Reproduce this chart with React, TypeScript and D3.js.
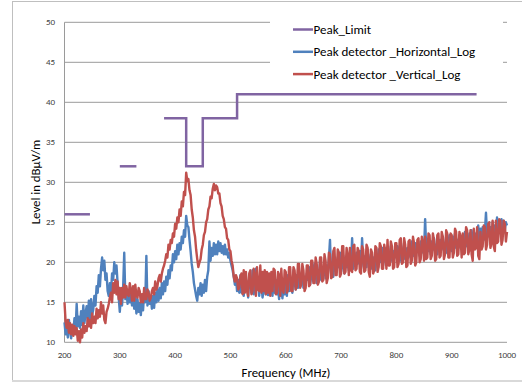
import React from "react";
import * as d3 from "d3";

// Frequency grid of the measured traces (MHz), one sample every 2 MHz
const FREQ_START = 200;
const FREQ_STEP = 2;

const horizontalLog: number[] = [
  12.5, 11.0, 12.2, 10.6, 12.8, 11.4, 10.5, 12.0, 11.2, 13.0, 11.4, 14.8, 12.0, 13.2, 11.8, 13.9, 12.2, 14.6, 12.4, 13.6,
  14.5, 12.6, 15.2, 13.0, 15.4, 13.4, 14.1, 15.8, 14.6, 17.0, 16.2, 18.4, 17.0, 19.2, 20.6, 19.0, 20.2, 17.8, 18.6, 16.4,
  15.8, 17.4, 16.2, 18.6, 17.8, 20.0, 18.6, 19.6, 17.4, 15.6, 13.8, 16.0, 14.6, 16.8, 21.2, 15.4, 16.6, 14.8, 16.3, 15.0,
  16.6, 14.6, 16.4, 14.2, 15.8, 13.6, 15.4, 13.8, 14.9, 13.4, 15.6, 14.0, 16.2, 15.0, 20.8, 14.6, 16.4, 14.8, 15.7, 14.2,
  15.8, 14.3, 16.2, 15.0, 16.6, 15.2, 16.8, 15.5, 17.4, 16.0, 17.6, 16.4, 18.2, 17.2, 19.0, 18.0, 19.6, 19.0, 21.0, 20.0,
  21.4, 20.4, 22.2, 21.0, 22.4, 21.6, 23.2, 22.4, 24.0, 23.2, 25.8, 24.6, 24.4, 22.8, 21.4, 19.8, 18.8, 17.4, 16.6, 15.8,
  15.2, 16.8, 16.0, 17.4, 15.8, 17.2, 16.2, 17.8, 16.4, 18.2, 19.0, 22.6, 20.2, 21.8, 20.8, 22.4, 21.0, 22.2, 21.0, 22.6,
  21.4, 22.4, 21.2, 22.0, 21.0, 22.2, 21.0, 21.6, 20.6, 21.2, 20.2, 19.6, 19.0, 18.2, 17.2, 18.0, 16.4, 17.8, 16.2, 18.4,
  16.2, 18.0, 15.8, 18.4, 16.8, 17.6, 15.6, 18.2, 17.6, 16.2, 19.0, 16.0, 17.8, 19.2, 16.6, 18.0, 15.8, 17.6, 17.4, 15.6,
  16.4, 18.2, 16.0, 17.8, 15.9, 18.4, 16.6, 17.2, 15.8, 18.6, 16.2, 17.8, 16.0, 17.0, 15.4, 17.6, 16.8, 15.5, 17.4, 16.0,
  17.2, 15.8, 18.4, 16.4, 18.0, 17.0, 16.2, 19.0, 17.4, 16.6, 18.4, 16.8, 18.8, 17.0, 17.6, 19.2, 16.8, 18.2, 17.2, 18.6,
  17.8, 19.4, 17.2, 18.2, 19.6, 17.6, 19.8, 18.4, 17.4, 19.0, 18.0, 20.2, 17.8, 19.2, 18.4, 20.0, 18.0, 19.6, 18.6, 20.4,
  22.8, 18.6, 20.0, 18.2, 20.6, 19.0, 18.8, 20.6, 19.4, 21.2, 18.8, 19.6, 20.8, 18.6, 20.2, 19.4, 21.0, 19.0, 20.4, 19.6,
  23.0, 19.2, 20.4, 19.6, 21.2, 19.8, 20.0, 21.4, 19.4, 23.0, 20.2, 19.0, 20.8, 19.4, 21.6, 20.0, 19.6, 21.0, 19.2, 20.6,
  20.4, 19.0, 21.0, 19.8, 21.6, 20.0, 20.4, 21.8, 19.6, 21.2, 20.2, 21.8, 19.8, 21.2, 20.4, 22.0, 20.2, 21.4, 20.6, 21.8,
  20.6, 22.0, 21.4, 20.2, 22.2, 20.0, 21.0, 22.4, 20.4, 21.6, 21.8, 20.6, 22.2, 20.8, 22.6, 21.2, 20.8, 22.4, 21.2, 22.0,
  21.8, 20.8, 22.6, 21.2, 22.4, 21.4, 25.4, 21.6, 22.8, 21.4, 22.2, 21.0, 22.6, 21.6, 23.0, 21.4, 22.2, 21.0, 22.8, 21.6,
  22.8, 21.6, 23.2, 22.0, 22.4, 21.2, 23.0, 22.0, 23.4, 21.8, 21.4, 23.2, 22.2, 23.6, 21.8, 22.8, 22.2, 23.4, 21.8, 22.6,
  23.4, 22.2, 23.8, 22.0, 23.0, 21.8, 23.6, 22.4, 24.0, 22.6, 23.2, 22.4, 23.6, 22.4, 24.6, 22.8, 24.2, 23.0, 24.4, 22.8,
  23.8, 26.2, 23.4, 24.6, 23.2, 24.4, 23.0, 25.0, 23.6, 24.6, 23.4, 25.6, 24.0, 25.2, 23.6, 25.4, 23.8, 25.2, 24.0, 25.0,
  24.6,
];

const verticalLog: number[] = [
  15.0, 12.6, 11.8, 12.8, 11.2, 12.4, 11.0, 12.2, 10.8, 12.0, 11.0, 11.8, 10.2, 11.4, 10.0, 11.6, 10.6, 12.4, 11.2, 12.0,
  11.4, 13.0, 12.0, 12.8, 11.8, 13.6, 12.4, 13.2, 12.4, 14.2, 13.0, 14.0, 13.2, 15.0, 13.6, 14.6, 12.8, 12.4, 13.8, 14.2,
  14.8, 15.6, 16.2, 15.0, 17.4, 16.2, 17.8, 16.0, 17.6, 15.4, 16.8, 14.8, 16.8, 15.6, 17.2, 15.6, 17.0, 16.0, 15.8, 17.4,
  16.6, 15.2, 17.0, 15.2, 17.2, 15.8, 15.6, 16.8, 16.4, 15.0, 16.0, 15.0, 16.8, 15.4, 15.4, 16.6, 16.2, 15.2, 15.6, 16.4,
  16.8, 16.0, 17.6, 16.6, 17.0, 18.0, 18.4, 17.6, 18.6, 19.2, 19.6, 20.2, 21.0, 20.6, 22.2, 21.6, 22.8, 22.4, 23.6, 23.2,
  24.8, 24.2, 25.6, 25.0, 26.6, 25.8, 27.6, 27.0, 28.8, 28.4, 31.2, 30.2, 30.4, 29.0, 28.4, 26.6, 25.6, 24.0, 23.2, 21.6,
  20.4, 19.4, 20.0, 20.4, 21.6, 22.2, 23.4, 23.8, 25.0, 25.4, 26.6, 27.0, 28.2, 28.0, 29.2, 29.8, 29.0, 29.6, 29.4, 28.6,
  28.6, 27.4, 27.0, 25.8, 25.4, 24.4, 24.2, 23.0, 22.8, 21.6, 21.4, 20.2, 19.6, 18.2, 17.6, 18.4, 18.0, 16.6, 16.8, 18.2,
  18.6, 16.0, 19.0, 16.2, 18.8, 16.4, 15.8, 18.6, 19.0, 16.0, 16.4, 19.2, 18.4, 15.8, 19.4, 16.6, 16.4, 19.6, 16.2, 18.8,
  16.4, 19.0, 16.0, 18.8, 16.2, 18.6, 15.8, 18.8, 16.4, 19.2, 19.0, 16.0, 16.2, 18.8, 18.4, 15.8, 19.2, 16.6, 16.2, 19.0,
  18.8, 16.2, 16.6, 19.4, 19.4, 16.4, 16.4, 19.4, 19.0, 16.6, 17.0, 19.8, 19.8, 16.8, 17.2, 19.8, 19.0, 16.4, 16.8, 19.6,
  19.6, 17.0, 17.2, 20.2, 20.2, 17.4, 17.4, 20.6, 19.8, 17.2, 17.6, 20.6, 20.6, 17.6, 17.8, 21.0, 20.2, 17.4, 18.0, 21.2,
  21.0, 18.0, 18.2, 21.4, 21.8, 18.4, 18.4, 21.6, 21.2, 18.2, 18.6, 22.0, 22.0, 18.6, 18.8, 21.8, 20.8, 18.4, 21.8, 19.0,
  18.8, 22.0, 22.2, 19.0, 19.2, 21.8, 21.4, 18.8, 18.6, 22.0, 21.6, 18.8, 19.0, 22.2, 21.8, 18.8, 18.2, 21.6, 21.2, 18.6,
  19.0, 22.0, 21.8, 18.8, 19.4, 22.4, 22.0, 19.2, 19.2, 22.2, 21.4, 19.2, 22.8, 19.6, 19.6, 22.6, 22.0, 19.2, 19.4, 22.4,
  22.4, 19.4, 19.8, 22.8, 23.0, 19.8, 20.0, 23.0, 22.2, 19.4, 19.6, 22.6, 22.8, 19.8, 20.2, 23.2, 22.4, 19.6, 20.0, 22.8,
  23.0, 20.0, 20.4, 23.2, 22.6, 20.2, 23.2, 20.4, 20.6, 23.6, 23.4, 20.4, 20.8, 23.6, 22.8, 20.2, 20.4, 23.4, 23.6, 20.6,
  20.8, 23.8, 23.2, 20.4, 21.0, 24.0, 23.6, 20.6, 20.6, 23.6, 23.4, 20.6, 21.2, 24.2, 23.8, 20.8, 21.0, 23.8, 23.2, 20.6,
  23.6, 21.0, 21.2, 24.4, 24.0, 21.0, 21.6, 24.0, 21.0, 20.2, 24.2, 21.6, 21.8, 24.4, 20.8, 20.4, 23.8, 21.6, 22.0, 24.6,
  24.4, 21.6, 22.2, 24.8, 25.0, 21.8, 22.4, 25.2, 22.0, 21.4, 25.2, 22.4, 22.6, 25.4, 25.2, 22.2, 22.8, 25.2, 24.8, 22.6,
  23.8,
];

// Peak limit: step segments (start MHz, end MHz, level dBµV/m)
const limitStart = [200, 300, 380, 420, 450, 512];
const limitEnd = [246, 330, 420, 450, 512, 945];
const limitLevel = [26, 32, 38, 32, 38, 41];

const xTicks = [200, 300, 400, 500, 600, 700, 800, 900, 1000];
const yTicks = [10, 15, 20, 25, 30, 35, 40, 45, 50];

const seriesNames = ["Peak_Limit", "Peak detector _Horizontal_Log", "Peak detector _Vertical_Log"];
const seriesColors = ["#8064A2", "#4F81BD", "#C0504D"];

const W = 522;
const H = 385;
const FONT = "Carlito, Calibri, Lato, 'Open Sans', sans-serif";

export default function App() {
  const x = d3.scaleLinear().domain([200, 1000]).range([64.5, 507]);
  const y = d3.scaleLinear().domain([10, 50]).range([342.3, 22.3]);

  const toPts = (vals: number[]) => vals.map((v, i) => [FREQ_START + i * FREQ_STEP, v] as [number, number]);
  const line = d3.line<[number, number]>().x((d) => x(d[0])).y((d) => y(d[1]));

  // Limit path: connected steps where segments touch, gaps otherwise
  const limitSegs: [number, number][][] = [];
  let cur: [number, number][] = [];
  limitStart.forEach((s, i) => {
    if (cur.length && limitEnd[i - 1] !== s) {
      limitSegs.push(cur);
      cur = [];
    }
    cur.push([s, limitLevel[i]]);
    cur.push([limitEnd[i], limitLevel[i]]);
  });
  if (cur.length) limitSegs.push(cur);

  return (
    <svg width={W} height={H} style={{ position: "absolute", left: 0, top: 0, background: "#fff" }}>
      <rect x={12.5} y={1.5} width={W} height={379} fill="#fff" stroke="#bfbfbf" strokeWidth={1} />
      <line x1={12} x2={W} y1={381} y2={381} stroke="#d9d9d9" strokeWidth={2} />
      {yTicks.map((t) => (
        <line key={"g" + t} x1={x(200)} x2={x(1000)} y1={y(t)} y2={y(t)} stroke="#9a9a9a" strokeWidth={1} />
      ))}
      <line x1={x(200)} x2={x(200)} y1={y(10)} y2={y(50)} stroke="#9a9a9a" strokeWidth={1} />
      {yTicks.map((t) => (
        <text key={"yl" + t} x={55} y={y(t)} dy="0.35em" textAnchor="end" fontSize={9} fontFamily={FONT} fill="#404040">
          {t}
        </text>
      ))}
      {xTicks.map((t) => (
        <text key={"xl" + t} x={x(t)} y={358} textAnchor="middle" fontSize={9} fontFamily={FONT} fill="#404040">
          {t}
        </text>
      ))}
      <text x={286} y={377} textAnchor="middle" fontSize={12.8} fontFamily={FONT} fill="#000">
        Frequency (MHz)
      </text>
      <text transform={`translate(40,182) rotate(-90)`} textAnchor="middle" fontSize={12.8} fontFamily={FONT} fill="#000">
        Level in dBµV/m
      </text>
      {limitSegs.map((seg, i) => (
        <path key={"lim" + i} d={line(seg) || ""} fill="none" stroke={seriesColors[0]} strokeWidth={2.5} />
      ))}
      <path d={line(toPts(horizontalLog)) || ""} fill="none" stroke={seriesColors[1]} strokeWidth={2.4} strokeLinejoin="round" />
      <path d={line(toPts(verticalLog)) || ""} fill="none" stroke={seriesColors[2]} strokeWidth={2.4} strokeLinejoin="round" />
      <rect x={270} y={14} width={233} height={72} fill="#fff" />
      {seriesNames.map((n, i) => (
        <g key={n} transform={`translate(293,${29.5 + i * 22.3})`}>
          <line x1={0} x2={20} y1={0} y2={0} stroke={seriesColors[i]} strokeWidth={2.5} />
          <text x={20.5} y={0} dy="0.35em" fontSize={13} fontFamily={FONT} fill="#000">
            {n}
          </text>
        </g>
      ))}
    </svg>
  );
}
